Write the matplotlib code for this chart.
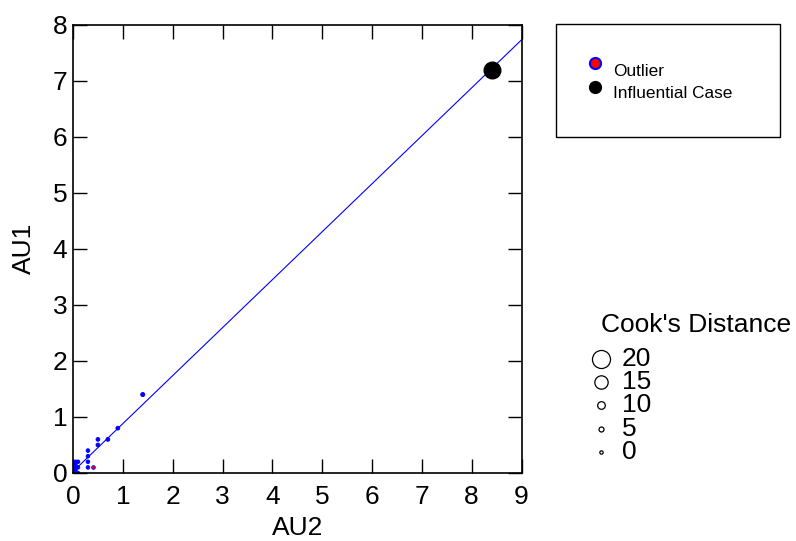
import numpy as np
import matplotlib
matplotlib.use("Agg")
import matplotlib.pyplot as plt
from matplotlib.patches import Rectangle

plt.rcParams['font.family'] = ['Liberation Sans', 'DejaVu Sans']

# regular cases (AU2, AU1, Cook's distance)
au2 = [0.0, 0.05, 0.1, 0.05, 0.1, 0.05, 0.05, 0.1, 0.3, 0.3, 0.3, 0.3, 0.5, 0.5, 0.7, 0.9, 1.4]
au1 = [0.0, 0.05, 0.0, 0.1, 0.1, 0.2, 0.15, 0.2, 0.1, 0.2, 0.3, 0.4, 0.5, 0.6, 0.6, 0.8, 1.4]
cook = [0.5, 0.5, 0.5, 1.0, 1.0, 1.0, 0.5, 1.0, 1.0, 1.0, 1.0, 1.0, 1.5, 1.5, 1.5, 1.5, 2.5]

# outlier and influential case
out_au2 = [0.4]
out_au1 = [0.1]
out_cook = [1.0]
infl_au2 = [8.4]
infl_au1 = [7.2]
infl_cook = [18.5]

# fitted line
intercept = 0.025
slope = 0.856

cook_legend = [20, 15, 10, 5, 0]
x_ticks = list(range(0, 10))
y_ticks = list(range(0, 9))

# cook's distance -> marker diameter (points)
size_vals = [0, 5, 10, 15, 20]
size_pts = [2.4, 3.6, 5.5, 9.6, 13.0]

def cook_to_s(c):
    return np.interp(c, size_vals, size_pts) ** 2

fig = plt.figure(figsize=(7.96, 5.41), dpi=100)
ax = fig.add_axes([73 / 796, 1 - 473 / 541, 448.5 / 796, 448.3 / 541])

xs = np.array([0, 9])
ax.plot(xs, intercept + slope * xs, color='blue', lw=0.8, zorder=1)
ax.scatter(au2, au1, s=cook_to_s(cook), facecolor='blue', edgecolor='blue', lw=0.6, zorder=2)
ax.scatter(out_au2, out_au1, s=cook_to_s(out_cook), facecolor='red', edgecolor='blue', lw=0.6, zorder=3)
ax.scatter(infl_au2, infl_au1, s=cook_to_s(infl_cook), facecolor='black', edgecolor='black', zorder=3)

ax.set_xlim(0, 9)
ax.set_ylim(0, 8)
ax.set_xticks(x_ticks)
ax.set_yticks(y_ticks)
ax.tick_params(direction='in', length=10, width=1, top=True, right=True, labelsize=19)
ax.tick_params(axis='x', pad=9)
ax.tick_params(axis='y', pad=4)
for sp in ax.spines.values():
    sp.set_linewidth(1.2)
ax.set_xlabel('AU2', fontsize=19, labelpad=4.5)
ax.set_ylabel('AU1', fontsize=19, labelpad=12)

# legends drawn in pixel space
lg = fig.add_axes([0, 0, 1, 1], zorder=-1)
lg.set_xlim(0, 796)
lg.set_ylim(541, 0)
lg.axis('off')

lg.add_patch(Rectangle((556, 24), 224, 113, facecolor='white', edgecolor='black', lw=1))
lg.plot([595], [63], 'o', ms=8, mfc='red', mec='blue', mew=1.5)
lg.plot([595], [87], 'o', ms=8.5, mfc='black', mec='black')
lg.text(613, 72, 'Outlier', fontsize=12.4, va='center', ha='left')
lg.text(613, 94, 'Influential Case', fontsize=12.4, va='center', ha='left')

lg.text(601, 325, "Cook's Distance", fontsize=19, va='center', ha='left')
for i, c in enumerate(cook_legend):
    yy = 359 + i * 23.2
    lg.scatter([601], [yy], s=cook_to_s(c), facecolor='white', edgecolor='black', lw=0.9)
    lg.text(622, yy, str(c), fontsize=19, va='center', ha='left')

fig.savefig('out.png', dpi=100)
